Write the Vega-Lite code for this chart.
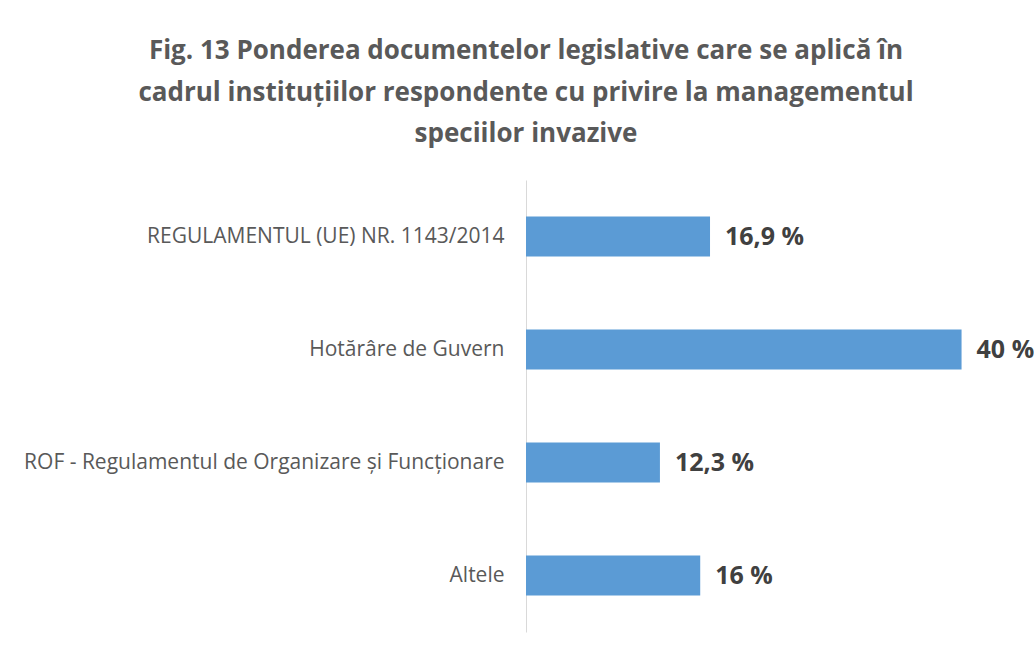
{
  "$schema": "https://vega.github.io/schema/vega-lite/v6.json",
  "autosize": "none",
  "padding": {"left": 526, "top": 180, "right": 18, "bottom": 26},
  "width": 490,
  "height": 452,
  "background": "white",
  "title": {
    "text": ["Fig. 13 Ponderea documentelor legislative care se aplică în", "cadrul instituțiilor respondente cu privire la managementul", "speciilor invazive"],
    "anchor": "start",
    "align": "center",
    "frame": "group",
    "font": "Open Sans",
    "fontSize": 26,
    "fontWeight": "bold",
    "color": "#595959",
    "lineHeight": 41.5,
    "offset": 33
  },
  "data": {
    "values": [
      {"doc": "REGULAMENTUL (UE) NR. 1143/2014", "value": 16.9, "label": "16,9 %"},
      {"doc": "Hotărâre de Guvern", "value": 40, "label": "40 %"},
      {"doc": "ROF - Regulamentul de Organizare și Funcționare", "value": 12.3, "label": "12,3 %"},
      {"doc": "Altele", "value": 16, "label": "16 %"}
    ]
  },
  "encoding": {
    "y": {
      "field": "doc",
      "type": "nominal",
      "sort": null,
      "scale": {"paddingInner": 0.646, "paddingOuter": 0.323},
      "axis": {
        "title": null,
        "ticks": false,
        "grid": false,
        "domainColor": "#d9d9d9",
        "domainWidth": 1,
        "labelFont": "Open Sans",
        "labelFontSize": 21,
        "labelColor": "#595959",
        "labelPadding": 22,
        "labelLimit": 600
      }
    },
    "x": {
      "field": "value",
      "type": "quantitative",
      "scale": {"domain": [0, 45], "nice": false},
      "axis": null
    }
  },
  "layer": [
    {"mark": {"type": "bar", "color": "#5b9bd5"}},
    {
      "mark": {"type": "text", "align": "left", "baseline": "middle", "dx": 15, "font": "Open Sans", "fontSize": 25, "fontWeight": "bold", "color": "#404040"},
      "encoding": {"text": {"field": "label"}}
    }
  ],
  "config": {"view": {"stroke": null}}
}
